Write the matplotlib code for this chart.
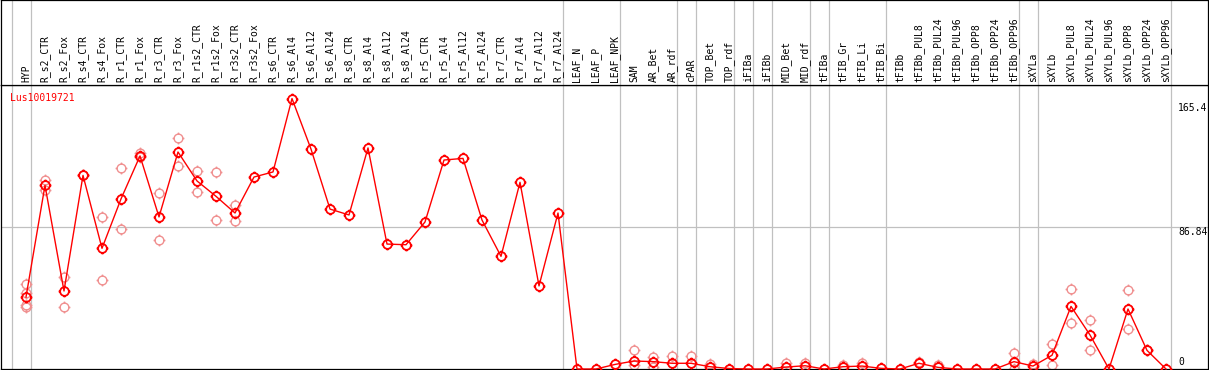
import numpy as np
import matplotlib
matplotlib.use("Agg")
import matplotlib.pyplot as plt
from matplotlib.path import Path

samples = ["HYP", "R_s2_CTR", "R_s2_Fox", "R_s4_CTR", "R_s4_Fox", "R_r1_CTR", "R_r1_Fox",
           "R_r3_CTR", "R_r3_Fox", "R_r1s2_CTR", "R_r1s2_Fox", "R_r3s2_CTR", "R_r3s2_Fox",
           "R_s6_CTR", "R_s6_Al4", "R_s6_Al12", "R_s6_Al24", "R_s8_CTR", "R_s8_Al4",
           "R_s8_Al12", "R_s8_Al24", "R_r5_CTR", "R_r5_Al4", "R_r5_Al12", "R_r5_Al24",
           "R_r7_CTR", "R_r7_Al4", "R_r7_Al12", "R_r7_Al24", "LEAF_N", "LEAF_P", "LEAF_NPK",
           "SAM", "AR_Bet", "AR_rdf", "cPAR", "TOP_Bet", "TOP_rdf", "iFIBa", "iFIBb",
           "MID_Bet", "MID_rdf", "tFIBa", "tFIB_Gr", "tFIB_Li", "tFIB_Bi", "tFIBb",
           "tFIBb_PUL8", "tFIBb_PUL24", "tFIBb_PUL96", "tFIBb_OPP8", "tFIBb_OPP24",
           "tFIBb_OPP96", "sXYLa", "sXYLb", "sXYLb_PUL8", "sXYLb_PUL24", "sXYLb_PUL96",
           "sXYLb_OPP8", "sXYLb_OPP24", "sXYLb_OPP96"]

# mean expression per sample
means = [44.0, 112.3, 47.7, 118.4, 73.8, 104.0, 130.3, 93.0, 132.7, 115.0, 105.6, 95.4, 117.4,
         120.5, 165.4, 134.5, 97.8, 94.2, 135.2, 76.4, 76.0, 89.9, 127.8, 128.8, 91.1,
         68.9, 114.2, 50.8, 95.4, 0.0, 0.0, 2.8, 4.9, 4.5, 3.5, 3.5, 1.4, 0.3, 0.0, 0.0,
         1.2, 2.0, 0.0, 1.4, 1.8, 0.4, 0.0, 3.5, 1.0, 0.0, 0.0, 0.0, 4.5, 1.8, 8.4,
         38.3, 20.8, 0.0, 36.7, 11.4, 0.0]

# individual replicates (sample index, value)
rep_idx = [0, 0, 0, 0, 1, 1, 2, 2, 3, 4, 4, 5, 5, 6, 6, 7, 7, 8, 8, 9, 9, 10, 10, 11, 11,
           32, 32, 33, 33, 34, 35, 36, 40, 41, 43, 44, 47, 48, 52, 52, 53, 54, 54,
           55, 55, 56, 56, 58, 58, 59]
rep_val = [52.0, 46.3, 39.1, 38.1, 115.6, 109.5, 56.1, 38.1, 118.8, 92.8, 54.2, 122.7, 85.4,
           131.9, 129.5, 107.4, 78.7, 141.1, 124.0, 121.1, 108.0, 120.5, 90.9, 100.1, 90.3,
           11.6, 2.4, 7.5, 1.4, 7.9, 7.9, 3.0, 3.5, 3.9, 2.7, 3.5, 4.5, 2.4, 9.6, 0.0, 3.0,
           15.1, 2.4, 48.7, 27.9, 29.8, 11.4, 48.1, 24.3, 11.6]

# group separators: drawn just right of these sample indices
sep_after = [-1, 0, 28, 31, 34, 35, 37, 38, 39, 41, 42, 45, 52, 53, 60]

gene = "Lus10019721"
ymax = 173.68
ytick_vals = ["165.4", "86.84", "0"]

# circle with four little ticks
circ = Path.unit_circle()
tick_v = []
tick_c = []
for dx, dy in [(1, 0), (-1, 0), (0, 1), (0, -1)]:
    tick_v += [(dx, dy), (dx * 1.35, dy * 1.35)]
    tick_c += [Path.MOVETO, Path.LINETO]
mk = Path(np.vstack([circ.vertices, tick_v]), list(circ.codes) + tick_c)

W, H = 1209, 370
fig = plt.figure(figsize=(W / 100, H / 100), dpi=100)
x_lim = ((1 - 26) / 19, (1208 - 26) / 19)
ax = fig.add_axes([1 / W, 1 / H, 1207 / W, 284 / H])
axh = fig.add_axes([1 / W, 285 / H, 1207 / W, 85 / H], sharex=ax)

x = np.arange(len(samples))
for a in (ax, axh):
    for s in sep_after:
        a.axvline(s + 0.24, color="#c0c0c0", lw=0.9, zorder=0)
    a.set_xlim(*x_lim)
    a.set_xticks([])
    a.set_yticks([])
    for sp in a.spines.values():
        sp.set_linewidth(0.9)
        sp.set_color("black")

ax.axhline(ymax / 2, color="#c0c0c0", lw=0.9, zorder=0)
ax.set_ylim(0, ymax)
axh.set_ylim(0, 1)

ax.plot(rep_idx, rep_val, linestyle="none", marker=mk, markersize=8.5, mfc="none",
        mec="#f09090", mew=1.0, zorder=2, clip_on=False)
ax.plot(x, means, color="red", lw=1.0, zorder=3, clip_on=False)
ax.plot(x, means, linestyle="none", marker=mk, markersize=8.5, mfc="none",
        mec="red", mew=1.3, zorder=4, clip_on=False)

for i, name in enumerate(samples):
    axh.text(i, 0.03, name, rotation=90, ha="center", va="bottom",
             fontsize=7, family="DejaVu Sans Mono")

ax.text(9 / 1207, 0.954, gene, transform=ax.transAxes, color="red",
        fontsize=7, family="DejaVu Sans Mono", va="center", ha="left")
for lab, yf in zip(ytick_vals, [0.919, 0.482, 0.025]):
    ax.text(1177 / 1207, yf, lab, transform=ax.transAxes, fontsize=7,
            family="DejaVu Sans Mono", va="center", ha="left")

fig.savefig("out.png", dpi=100)
